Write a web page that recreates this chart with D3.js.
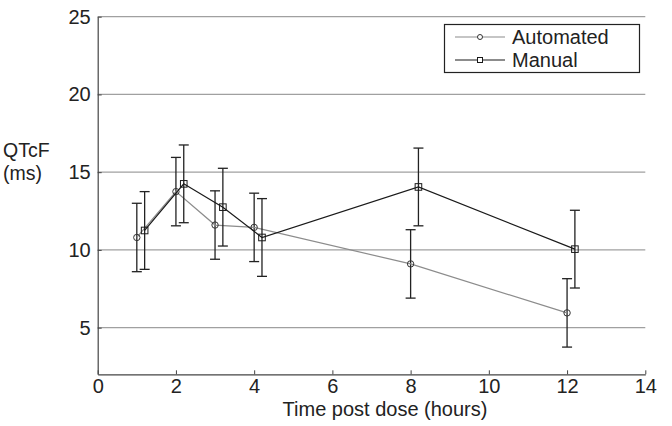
<!DOCTYPE html>
<html>
<head>
<meta charset="utf-8">
<script src="https://cdn.jsdelivr.net/npm/d3@7"></script>
<style>
body { margin: 0; background: #fff; }
svg { font-family: "Liberation Sans", Arial, Helvetica, sans-serif; }
</style>
</head>
<body>
<svg id="chart" width="672" height="426"></svg>
<script>
// ---- data ----
const autoX = [1, 2, 3, 4, 8, 12];
const autoMean = [10.8, 13.75, 11.6, 11.45, 9.1, 5.95];
const autoErr = [2.2, 2.2, 2.2, 2.2, 2.2, 2.2];
const manualX = [1.2, 2.2, 3.2, 4.2, 8.2, 12.2];
const manualMean = [11.25, 14.25, 12.75, 10.8, 14.05, 10.05];
const manualErr = [2.5, 2.5, 2.5, 2.5, 2.5, 2.5];
const xTicks = [0, 2, 4, 6, 8, 10, 12, 14];
const yTicks = [5, 10, 15, 20, 25];
const seriesNames = ["Automated", "Manual"];

const svg = d3.select("#chart");
const x = d3.scaleLinear().domain([0, 14]).range([97.7, 645.3]);
const y = d3.scaleLinear().domain([2, 25]).range([374.3, 16.7]);

// gridlines
svg.append("g").selectAll("line").data(yTicks).join("line")
  .attr("x1", x(0)).attr("x2", x(14))
  .attr("y1", d => y(d)).attr("y2", d => y(d))
  .attr("stroke", "#a0a0a0").attr("stroke-width", 1.2);

// axes
const xAxis = svg.append("g").attr("transform", `translate(0,${y(2)})`)
  .call(d3.axisBottom(x).tickValues(xTicks).tickSizeInner(-4).tickSizeOuter(0).tickPadding(5));
const yAxis = svg.append("g").attr("transform", `translate(${x(0)},0)`)
  .call(d3.axisLeft(y).tickValues(yTicks).tickSizeInner(-4).tickSizeOuter(0).tickPadding(7));
[xAxis, yAxis].forEach(g => {
  g.select(".domain").attr("stroke", "#444").attr("stroke-width", 1.2);
  g.selectAll(".tick line").attr("stroke", "#444");
  g.selectAll(".tick text").attr("font-size", 20).attr("fill", "#222")
    .attr("font-family", "Liberation Sans, Arial, sans-serif");
});
xAxis.selectAll(".tick text").attr("dy", "0.71em");

// axis titles
svg.append("text").attr("x", 385).attr("y", 416)
  .attr("text-anchor", "middle").attr("font-size", 20).attr("fill", "#222")
  .text("Time post dose (hours)");
svg.append("text").attr("x", 3).attr("y", 157)
  .attr("font-size", 19.5).attr("fill", "#222").text("QTcF");
svg.append("text").attr("x", 3).attr("y", 180)
  .attr("font-size", 19.5).attr("fill", "#222").text("(ms)");

function series(xs, means, errs, lineColor, markerColor, marker) {
  const pts = xs.map((t, i) => ({ t, m: means[i], e: errs[i] }));
  const g = svg.append("g");
  const eb = g.selectAll("g.eb").data(pts).join("g");
  eb.append("line").attr("x1", d => x(d.t)).attr("x2", d => x(d.t))
    .attr("y1", d => y(d.m + d.e)).attr("y2", d => y(d.m - d.e))
    .attr("stroke", "#222").attr("stroke-width", 1.3);
  [1, -1].forEach(s => {
    eb.append("line").attr("x1", d => x(d.t) - 5).attr("x2", d => x(d.t) + 5)
      .attr("y1", d => y(d.m + s * d.e)).attr("y2", d => y(d.m + s * d.e))
      .attr("stroke", "#222").attr("stroke-width", 1.3);
  });
  g.append("path").datum(pts)
    .attr("d", d3.line().x(d => x(d.t)).y(d => y(d.m)))
    .attr("fill", "none").attr("stroke", lineColor).attr("stroke-width", 1.2);
  if (marker === "circle") {
    g.selectAll("circle").data(pts).join("circle")
      .attr("cx", d => x(d.t)).attr("cy", d => y(d.m)).attr("r", 3.2)
      .attr("fill", "none").attr("stroke", markerColor).attr("stroke-width", 1);
  } else {
    g.selectAll("rect").data(pts).join("rect")
      .attr("x", d => x(d.t) - 3.3).attr("y", d => y(d.m) - 3.3)
      .attr("width", 6.6).attr("height", 6.6)
      .attr("fill", "none").attr("stroke", markerColor).attr("stroke-width", 1);
  }
}
series(autoX, autoMean, autoErr, "#8c8c8c", "#333", "circle");
series(manualX, manualMean, manualErr, "#1a1a1a", "#1a1a1a", "square");

// legend
const lg = svg.append("g");
lg.append("rect").attr("x", 444.5).attr("y", 24.5).attr("width", 195).attr("height", 48)
  .attr("fill", "#fff").attr("stroke", "#222").attr("stroke-width", 1.2);
const legendItems = [
  { name: seriesNames[0], color: "#8c8c8c", mk: "#333", marker: "circle", yy: 37 },
  { name: seriesNames[1], color: "#1a1a1a", mk: "#1a1a1a", marker: "square", yy: 60 }
];
legendItems.forEach(it => {
  lg.append("line").attr("x1", 455).attr("x2", 505).attr("y1", it.yy).attr("y2", it.yy)
    .attr("stroke", it.color).attr("stroke-width", 1.2);
  if (it.marker === "circle") {
    lg.append("circle").attr("cx", 480).attr("cy", it.yy).attr("r", 2.5)
      .attr("fill", "#fff").attr("stroke", it.mk);
  } else {
    lg.append("rect").attr("x", 477.5).attr("y", it.yy - 2.5).attr("width", 5).attr("height", 5)
      .attr("fill", "#fff").attr("stroke", it.mk);
  }
  lg.append("text").attr("x", 512).attr("y", it.yy + 7).attr("font-size", 20)
    .attr("fill", "#222").text(it.name);
});
</script>
</body>
</html>
